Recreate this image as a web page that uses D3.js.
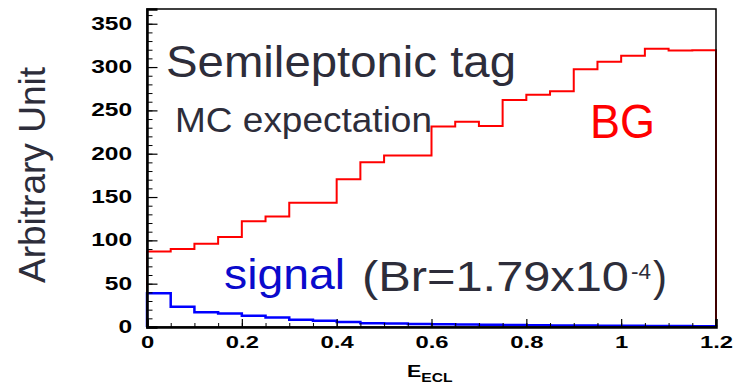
<!DOCTYPE html>
<html>
<head>
<meta charset="utf-8">
<script src="https://cdn.jsdelivr.net/npm/d3@7"></script>
<style>
  body { margin: 0; background: #fff; }
  svg { display: block; font-family: 'Liberation Sans', Arial, sans-serif; }
</style>
</head>
<body>
<svg id="chart" width="734" height="384"></svg>
<script>
'use strict';

// bin lower edges (bin width 0.05)
const binLow = [0, 0.05, 0.1, 0.15, 0.2, 0.25, 0.3, 0.35, 0.4, 0.45, 0.5, 0.55,
  0.6, 0.65, 0.7, 0.75, 0.8, 0.85, 0.9, 0.95, 1.0, 1.05, 1.1, 1.15];
const binHigh = 1.2;

const bgValues = [87, 90, 96, 104, 122, 127.5, 143.5, 143.5, 170.5, 190, 198, 198,
  231.5, 237, 232, 262, 268, 272, 297.5, 306, 313, 321, 319, 319.5];
const signalValues = [39, 23.5, 17, 15.5, 13, 11, 8.5, 7.3, 5.8, 4.3, 3.9, 3.5,
  3.1, 2.8, 2.5, 2.2, 2, 1.8, 1.6, 1.4, 1.3, 1.2, 1.1, 1];

const xTicks = [0, 0.2, 0.4, 0.6, 0.8, 1, 1.2];
const yTicks = [0, 50, 100, 150, 200, 250, 300, 350];

const TEXT = '#2d2d3a';
const svg = d3.select('#chart');
const margin = { top: 9, right: 18, bottom: 57, left: 147 };
const width = 734 - margin.left - margin.right;
const height = 384 - margin.top - margin.bottom;

const x = d3.scaleLinear().domain([0, 1.2]).range([margin.left, margin.left + width]);
const y = d3.scaleLinear().domain([0, 367]).range([margin.top + height, margin.top]);

// stretch helper for the wide axis font
function stretch(sel, k) {
  sel.each(function () {
    const w = this.getComputedTextLength();
    d3.select(this).attr('textLength', w * k).attr('lengthAdjust', 'spacingAndGlyphs');
  });
}

// histograms
function histPoints(values) {
  const pts = [[0, 0]];
  values.forEach((v, i) => pts.push([binLow[i], v]));
  pts.push([binHigh, values[values.length - 1]]);
  pts.push([binHigh, 0]);
  return pts;
}
const line = d3.line()
  .x((d) => x(d[0]))
  .y((d) => y(d[1]))
  .curve(d3.curveStepAfter);

svg.append('path')
  .attr('d', line(histPoints(bgValues)))
  .attr('fill', 'none')
  .attr('stroke', '#ff0000')
  .attr('stroke-width', 2);

svg.append('path')
  .attr('d', line(histPoints(signalValues)))
  .attr('fill', 'none')
  .attr('stroke', '#0000ff')
  .attr('stroke-width', 2.5);

// frame
svg.append('rect')
  .attr('x', margin.left)
  .attr('y', margin.top)
  .attr('width', width)
  .attr('height', height)
  .attr('fill', 'none')
  .attr('stroke', '#000')
  .attr('stroke-width', 1.5);

// Y-Axis
svg.append('g')
  .attr('transform', `translate(${margin.left},0)`)
  .call(d3.axisLeft(y).tickValues(d3.range(0, 367, 10)).tickSize(-5.5).tickFormat(''))
  .call((g) => g.select('.domain').remove())
  .call((g) => g.selectAll('.tick line').attr('stroke', '#000').attr('stroke-width', 1));

const yAxis = svg.append('g')
  .attr('transform', `translate(${margin.left},0)`)
  .call(d3.axisLeft(y).tickValues(yTicks).tickSize(-10.5).tickPadding(15).tickFormat(d3.format('d')))
  .call((g) => g.select('.domain').attr('stroke', '#000').attr('stroke-width', 2.5))
  .call((g) => g.selectAll('.tick line').attr('stroke', '#000').attr('stroke-width', 1.2))
  .call((g) => g.selectAll('.tick text')
    .attr('fill', '#000')
    .style('font-size', '17.5px')
    .style('font-weight', 'bold'));
stretch(yAxis.selectAll('.tick text'), 1.4);

// X-Axis
svg.append('g')
  .attr('transform', `translate(0,${margin.top + height})`)
  .call(d3.axisBottom(x).tickValues(binLow.concat([binHigh])).tickSize(-4).tickFormat(''))
  .call((g) => g.select('.domain').remove())
  .call((g) => g.selectAll('.tick line').attr('stroke', '#000').attr('stroke-width', 1));

const xAxis = svg.append('g')
  .attr('transform', `translate(0,${margin.top + height})`)
  .call(d3.axisBottom(x).tickValues(xTicks).tickSize(-8).tickPadding(8.5).tickFormat(d3.format('')))
  .call((g) => g.select('.domain').attr('stroke', '#000').attr('stroke-width', 2.5))
  .call((g) => g.selectAll('.tick line').attr('stroke', '#000').attr('stroke-width', 1.2))
  .call((g) => g.selectAll('.tick text')
    .attr('fill', '#000')
    .style('font-size', '17px')
    .style('font-weight', 'bold'));
stretch(xAxis.selectAll('.tick text'), 1.4);

// axis titles
const xTitle = svg.append('text')
  .attr('x', 407)
  .attr('y', 377)
  .attr('fill', '#000')
  .style('font-weight', 'bold');
xTitle.append('tspan').style('font-size', '16.5px').text('E');
xTitle.append('tspan').style('font-size', '12px').attr('dy', 5).text('ECL');
stretch(xTitle, 1.3);

svg.append('text')
  .attr('transform', 'translate(45,175) rotate(-90)')
  .attr('text-anchor', 'middle')
  .attr('fill', TEXT)
  .style('font-size', '37px')
  .attr('textLength', 216)
  .attr('lengthAdjust', 'spacingAndGlyphs')
  .text('Arbitrary Unit');

// annotations
svg.append('text')
  .attr('x', 166).attr('y', 76.5)
  .attr('fill', TEXT)
  .style('font-size', '44px')
  .attr('textLength', 350).attr('lengthAdjust', 'spacingAndGlyphs')
  .text('Semileptonic tag');

svg.append('text')
  .attr('x', 175).attr('y', 131.5)
  .attr('fill', TEXT)
  .style('font-size', '35px')
  .attr('textLength', 257).attr('lengthAdjust', 'spacingAndGlyphs')
  .text('MC expectation');

svg.append('text')
  .attr('x', 590).attr('y', 138)
  .attr('fill', '#ff0000')
  .style('font-size', '48px')
  .attr('textLength', 65).attr('lengthAdjust', 'spacingAndGlyphs')
  .text('BG');

svg.append('text')
  .attr('x', 224).attr('y', 289)
  .attr('fill', '#0a0acc')
  .style('font-size', '43px')
  .attr('textLength', 121).attr('lengthAdjust', 'spacingAndGlyphs')
  .text('signal');

svg.append('text')
  .attr('x', 362).attr('y', 291)
  .attr('fill', TEXT)
  .style('font-size', '42px')
  .attr('textLength', 267).attr('lengthAdjust', 'spacingAndGlyphs')
  .text('(Br=1.79x10');

svg.append('text')
  .attr('x', 631).attr('y', 279)
  .attr('fill', TEXT)
  .style('font-size', '22px')
  .attr('textLength', 20).attr('lengthAdjust', 'spacingAndGlyphs')
  .text('-4');

svg.append('text')
  .attr('x', 653).attr('y', 291)
  .attr('fill', TEXT)
  .style('font-size', '42px')
  .text(')');
</script>
</body>
</html>
